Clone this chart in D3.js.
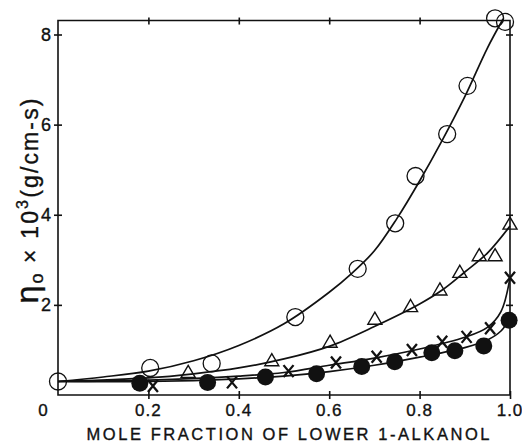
<!DOCTYPE html>
<html><head><meta charset="utf-8">
<script src="https://cdn.jsdelivr.net/npm/d3@7"></script>
<style>body{margin:0;background:#fff}svg{display:block}text{font-family:"Liberation Sans",Arial,sans-serif;fill:#111;stroke:#111;stroke-width:0.35px}</style>
</head><body><svg id="c" width="522" height="444"></svg>
<script>
// ---- data ----
const circX = [0, 0.204, 0.34, 0.525, 0.663, 0.746, 0.791, 0.861, 0.906, 0.967, 0.989];
const circY = [0.3, 0.6, 0.7, 1.73, 2.80, 3.81, 4.86, 5.79, 6.86, 8.36, 8.28];
const triX = [0.288, 0.473, 0.602, 0.701, 0.78, 0.845, 0.889, 0.932, 0.967, 1.0];
const triY = [0.48, 0.74, 1.15, 1.66, 1.94, 2.31, 2.70, 3.07, 3.07, 3.77];
const crossX = [0.21, 0.385, 0.51, 0.615, 0.705, 0.783, 0.85, 0.904, 0.956, 1.0];
const crossY = [0.2, 0.28, 0.53, 0.72, 0.85, 1.0, 1.18, 1.29, 1.48, 2.6];
const fillX = [0.181, 0.331, 0.459, 0.572, 0.672, 0.745, 0.827, 0.878, 0.942, 0.998];
const fillY = [0.26, 0.28, 0.40, 0.47, 0.63, 0.74, 0.94, 0.98, 1.09, 1.66];
// smooth fitted curves
const circFitX = [0, 0.1, 0.2, 0.3, 0.4, 0.5, 0.6, 0.65, 0.7, 0.75, 0.8, 0.85, 0.9, 0.95, 0.985];
const circFitY = [0.3, 0.4, 0.53, 0.76, 1.1, 1.58, 2.28, 2.7, 3.2, 3.92, 4.75, 5.65, 6.62, 7.7, 8.35];
const triFitX = [0, 0.2, 0.3, 0.4, 0.5, 0.6, 0.7, 0.8, 0.85, 0.9, 0.95, 1.0];
const triFitY = [0.3, 0.38, 0.47, 0.6, 0.8, 1.08, 1.52, 2.02, 2.33, 2.73, 3.15, 3.75];
const crossFitX = [0, 0.2, 0.4, 0.5, 0.6, 0.7, 0.8, 0.9, 0.95, 0.98, 1.0];
const crossFitY = [0.3, 0.33, 0.42, 0.5, 0.66, 0.82, 1.02, 1.28, 1.5, 1.85, 2.6];
const fillFitX = [0, 0.2, 0.4, 0.5, 0.6, 0.7, 0.8, 0.9, 0.95, 0.98, 1.0];
const fillFitY = [0.3, 0.3, 0.36, 0.42, 0.52, 0.66, 0.84, 1.05, 1.22, 1.42, 1.7];
const xTicks = [0.2, 0.4, 0.6, 0.8, 1.0];
const xTickLabels = ["0.2", "0.4", "0.6", "0.8", "1.0"];
const yTicks = [2, 4, 6, 8];
const yTickLabels = ["2", "4", "6", "8"];
const xTitle = "MOLE FRACTION OF LOWER 1-ALKANOL";

const svg = d3.select("#c");
const x = d3.scaleLinear().domain([0, 1]).range([58, 510]);
const y = d3.scaleLinear().domain([0, 8]).range([395, 34.5]);
const yTop = 8.31;

const frame = svg.append("g").attr("stroke", "#111").attr("stroke-width", 1.6).attr("fill", "none");
frame.append("path").attr("d", `M${x(0)},${y(yTop)}H${x(1)}V${y(0)}H${x(0)}Z`);

// axes via d3 (ticks crossing the frame)
const axB = svg.append("g").attr("transform", `translate(0,${y(0)})`)
  .call(d3.axisBottom(x).tickValues(xTicks).tickSize(4).tickFormat(""));
const axB2 = svg.append("g").attr("transform", `translate(0,${y(0)})`)
  .call(d3.axisTop(x).tickValues(xTicks).tickSize(4).tickFormat(""));
const axT = svg.append("g").attr("transform", `translate(0,${y(yTop)})`)
  .call(d3.axisBottom(x).tickValues(xTicks.slice(0, 4)).tickSize(4).tickFormat(""));
const axT2 = svg.append("g").attr("transform", `translate(0,${y(yTop)})`)
  .call(d3.axisTop(x).tickValues(xTicks.slice(0, 4)).tickSize(3).tickFormat(""));
const axL = svg.append("g").attr("transform", `translate(${x(0)},0)`)
  .call(d3.axisLeft(y).tickValues(yTicks).tickSize(4).tickFormat(""));
const axL2 = svg.append("g").attr("transform", `translate(${x(0)},0)`)
  .call(d3.axisRight(y).tickValues(yTicks).tickSize(4).tickFormat(""));
const axR = svg.append("g").attr("transform", `translate(${x(1)},0)`)
  .call(d3.axisLeft(y).tickValues(yTicks).tickSize(4).tickFormat(""));
const axR2 = svg.append("g").attr("transform", `translate(${x(1)},0)`)
  .call(d3.axisRight(y).tickValues(yTicks).tickSize(3).tickFormat(""));
[axB, axB2, axT, axT2, axL, axL2, axR, axR2].forEach(a => {
  a.select(".domain").remove();
  a.selectAll("line").attr("stroke", "#111").attr("stroke-width", 1.6);
});

// tick labels
svg.append("g").selectAll("text").data(xTicks).join("text")
  .attr("x", d => x(d)).attr("y", 416).attr("text-anchor", "middle")
  .attr("font-size", 17).attr("letter-spacing", 1).text((d, i) => xTickLabels[i]);
svg.append("text").attr("x", x(0) - 15).attr("y", 416).attr("text-anchor", "middle")
  .attr("font-size", 17).text("0");
svg.append("g").selectAll("text").data(yTicks).join("text")
  .attr("x", x(0) - 7).attr("y", d => y(d) + 6).attr("text-anchor", "end")
  .attr("font-size", 18).text((d, i) => yTickLabels[i]);

// axis titles
svg.append("text").attr("x", 288).attr("y", 440).attr("text-anchor", "middle")
  .attr("font-size", 16.5).attr("textLength", 403).attr("lengthAdjust", "spacing").text(xTitle);
const yl = svg.append("text").attr("transform", "translate(38,201) rotate(-90)")
  .attr("text-anchor", "middle").attr("font-size", 23)
  .attr("textLength", 205).attr("lengthAdjust", "spacing");
yl.append("tspan").attr("font-size", 32).text("η");
yl.append("tspan").attr("font-size", 18).attr("dy", 5).text("o");
yl.append("tspan").attr("dy", -5).text(" × 10");
yl.append("tspan").attr("font-size", 16).attr("dy", -10).text("3");
yl.append("tspan").attr("dy", 10).text("(g/cm-s)");

// fitted lines
const line = d3.line().x(d => x(d[0])).y(d => y(d[1])).curve(d3.curveCatmullRom);
const fits = [[circFitX, circFitY], [triFitX, triFitY], [crossFitX, crossFitY], [fillFitX, fillFitY]];
svg.append("g").selectAll("path").data(fits).join("path")
  .attr("d", f => line(f[0].map((v, i) => [v, f[1][i]])))
  .attr("fill", "none").attr("stroke", "#111").attr("stroke-width", 1.7);

// markers
const zip = (a, b) => a.map((v, i) => [v, b[i]]);
svg.append("g").selectAll("circle").data(zip(circX, circY)).join("circle")
  .attr("cx", d => x(d[0])).attr("cy", d => y(d[1])).attr("r", 8.5)
  .attr("fill", "none").attr("stroke", "#111").attr("stroke-width", 1.3);
const tri = d3.symbol().type(d3.symbolTriangle).size(85);
svg.append("g").selectAll("path").data(zip(triX, triY)).join("path")
  .attr("transform", d => `translate(${x(d[0])},${y(d[1])})`).attr("d", tri)
  .attr("fill", "none").attr("stroke", "#111").attr("stroke-width", 1.4);
svg.append("g").selectAll("path").data(zip(crossX, crossY)).join("path")
  .attr("transform", d => `translate(${x(d[0])},${y(d[1])})`)
  .attr("d", "M-5,-6L5,6M5,-6L-5,6")
  .attr("fill", "none").attr("stroke", "#111").attr("stroke-width", 2.3);
svg.append("g").selectAll("circle").data(zip(fillX, fillY)).join("circle")
  .attr("cx", d => x(d[0])).attr("cy", d => y(d[1])).attr("r", 8.5)
  .attr("fill", "#111");
</script></body></html>
